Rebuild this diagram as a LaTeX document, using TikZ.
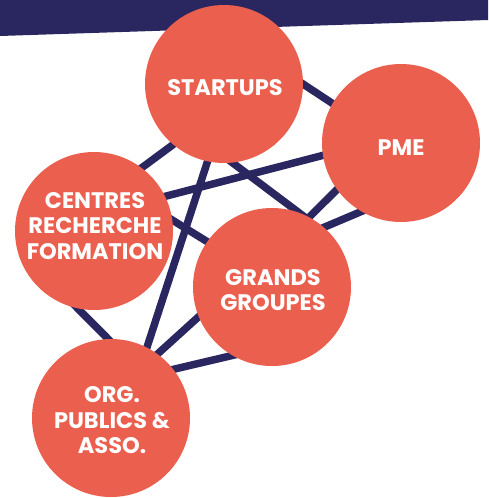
\documentclass[tikz,border=0pt]{standalone}
\usepackage{fontspec}
\setmainfont{Poppins}
\usetikzlibrary{backgrounds}
\definecolor{navy}{HTML}{2A2660}
\definecolor{coral}{HTML}{EB5F4F}
\tikzset{
  bubble/.style={circle, fill=coral, draw=none, minimum size=158pt, inner sep=0pt, outer sep=0pt},
  lbl/.style={text=white, align=center, font=\fontsize{22.5}{25.5}\selectfont\bfseries, inner sep=0pt},
  link/.style={draw=navy, line width=7.5pt, shorten <=-8pt, shorten >=-8pt}
}
\begin{document}
\begin{tikzpicture}[x=1pt, y=-1pt]
\useasboundingbox (0,0) rectangle (488,498);
\fill[navy] (0,0) -- (488,0) -- (488,20) -- (0,36) -- cycle;
\node[bubble] (S) at (224,84) {};
\node[bubble] (P) at (401,143) {};
\node[bubble] (C) at (94,231) {};
\node[bubble] (G) at (272,287) {};
\node[bubble] (O) at (111,418) {};
\node[lbl] (tS) at (225,88) {STARTUPS};
\node[lbl] (tP) at (401,147.5) {PME};
\node[lbl] (tC) at (95,226) {CENTRES\\RECHERCHE\\FORMATION};
\node[lbl] (tG) at (273,290) {GRANDS\\GROUPES};
\node[lbl] (tO) at (112,420.5) {ORG.\\PUBLICS \&\\ASSO.};
\begin{pgfonlayer}{background}
\draw[link] (C.53.4) -- (S.230.9);
\draw[link] (S.0) -- (P.150.6);
\draw[link] (S.276.5) -- (G.70.9);
\draw[link] (S.258.4) -- (O.63.1);
\draw[link] (C.26.3) -- (P.189.5);
\draw[link] (C.8.6) -- (G.145.3);
\draw[link] (C.258.5) -- (O.92.9);
\draw[link] (G.62.8) -- (P.216.3);
\draw[link] (G.49.6) -- (P.240.5);
\draw[link] (O.54.7) -- (G.202.7);
\draw[link] (O.38.9) -- (G.240.9);
\end{pgfonlayer}
\end{tikzpicture}
\end{document}
